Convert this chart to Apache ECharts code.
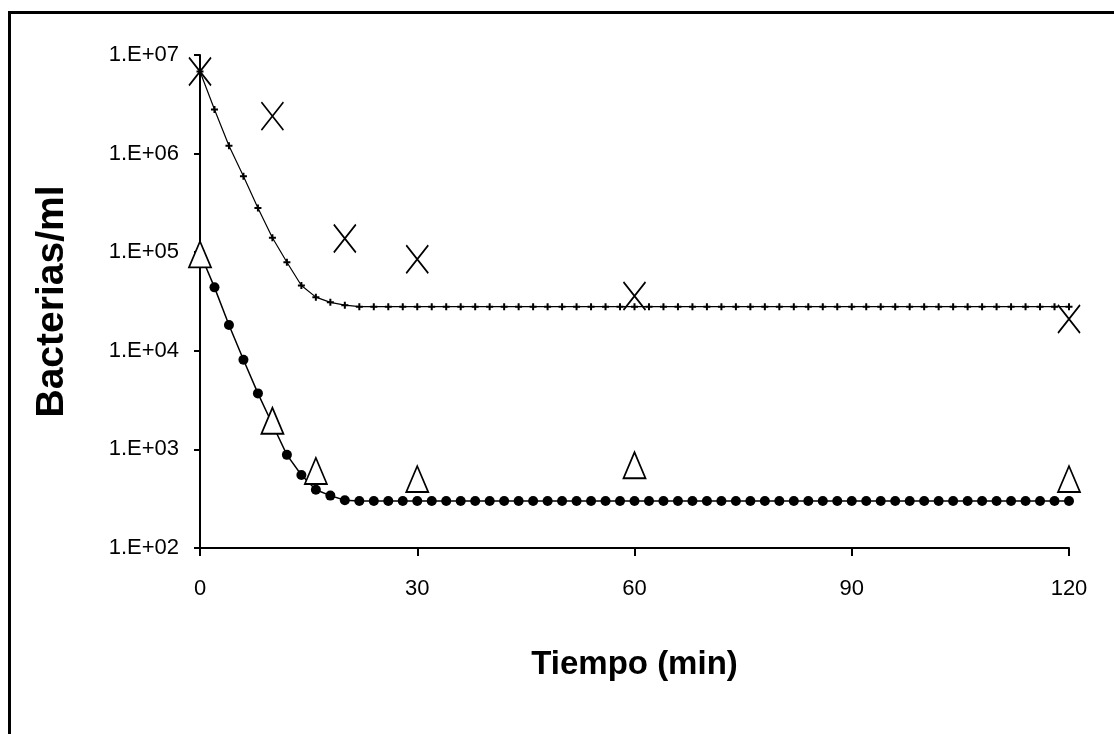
<!DOCTYPE html>
<html>
<head>
<meta charset="utf-8">
<script src="https://cdn.jsdelivr.net/npm/echarts@6/dist/echarts.min.js"></script>
<style>
html,body{margin:0;padding:0;background:#fff;}
#c{width:1114px;height:734px;}
</style>
</head>
<body>
<div id="c"></div>
<script>
// ---- data ----
var xTickLabels = ['0', '30', '60', '90', '120'];
var yTickLabels = ['1.E+02', '1.E+03', '1.E+04', '1.E+05', '1.E+06', '1.E+07'];

// experimental points
var expTimes = [0, 10, 20, 30, 60, 120];
var expX = [6.8e6, 2.4e6, 1.38e5, 8.5e4, 3.6e4, 2.1e4];          // "x" markers
var expTriTimes = [0, 10, 16, 30, 60, 120];
var expTri = [9.5e4, 1.95e3, 605, 500, 690, 500];                // open triangles

// model curves (every 2 min)
var modelTimes = [0, 2, 4, 6, 8, 10, 12, 14, 16, 18, 20, 22, 24, 26, 28, 30, 32, 34, 36, 38, 40,
  42, 44, 46, 48, 50, 52, 54, 56, 58, 60, 62, 64, 66, 68, 70, 72, 74, 76, 78, 80,
  82, 84, 86, 88, 90, 92, 94, 96, 98, 100, 102, 104, 106, 108, 110, 112, 114, 116, 118, 120];
var modelUpper = [6.8e6, 2.8e6, 1.2e6, 5.9e5, 2.8e5, 1.4e5, 7.9e4, 4.6e4, 3.5e4, 3.1e4, 2.9e4,
  2.8e4, 2.8e4, 2.8e4, 2.8e4, 2.8e4, 2.8e4, 2.8e4, 2.8e4, 2.8e4, 2.8e4,
  2.8e4, 2.8e4, 2.8e4, 2.8e4, 2.8e4, 2.8e4, 2.8e4, 2.8e4, 2.8e4, 2.8e4,
  2.8e4, 2.8e4, 2.8e4, 2.8e4, 2.8e4, 2.8e4, 2.8e4, 2.8e4, 2.8e4, 2.8e4,
  2.8e4, 2.8e4, 2.8e4, 2.8e4, 2.8e4, 2.8e4, 2.8e4, 2.8e4, 2.8e4, 2.8e4,
  2.8e4, 2.8e4, 2.8e4, 2.8e4, 2.8e4, 2.8e4, 2.8e4, 2.8e4, 2.8e4, 2.8e4];
var modelLower = [9.8e4, 4.4e4, 1.83e4, 8.1e3, 3.7e3, 1.8e3, 880, 550, 390, 340, 305,
  300, 300, 300, 300, 300, 300, 300, 300, 300, 300,
  300, 300, 300, 300, 300, 300, 300, 300, 300, 300,
  300, 300, 300, 300, 300, 300, 300, 300, 300, 300,
  300, 300, 300, 300, 300, 300, 300, 300, 300, 300,
  300, 300, 300, 300, 300, 300, 300, 300, 300, 300];

function pairs(xs, ys) { return xs.map(function (x, i) { return [x, ys[i]]; }); }

var font = "'Liberation Sans', Arial, sans-serif";

var chart = echarts.init(document.getElementById('c'), null, {renderer: 'canvas'});
chart.setOption({
  backgroundColor: '#ffffff',
  animation: false,
  graphic: [{
    type: 'rect',
    shape: {x: 9.5, y: 12.5, width: 1200, height: 900},
    style: {fill: 'none', stroke: '#000', lineWidth: 3},
    silent: true
  }],
  grid: {left: 200, right: 45, top: 55, bottom: 186, containLabel: false},
  xAxis: {
    type: 'value', min: 0, max: 120, interval: 30,
    name: 'Tiempo (min)', nameLocation: 'middle', nameGap: 100,
    nameTextStyle: {fontFamily: font, fontWeight: 'bold', fontSize: 33, color: '#000'},
    axisLine: {show: true, onZero: false, lineStyle: {color: '#000', width: 2}},
    axisTick: {show: true, inside: false, length: 8, lineStyle: {color: '#000', width: 2}},
    splitLine: {show: false},
    axisLabel: {
      margin: 30, fontFamily: font, fontSize: 22, color: '#000',
      formatter: function (v) { return xTickLabels[Math.round(v / 30)]; }
    }
  },
  yAxis: {
    type: 'log', logBase: 10, min: 100, max: 1e7,
    name: 'Bacterias/ml', nameLocation: 'middle', nameGap: 128, nameRotate: 90,
    nameTextStyle: {fontFamily: font, fontWeight: 'bold', fontSize: 39, color: '#000'},
    axisLine: {show: true, onZero: false, lineStyle: {color: '#000', width: 2}},
    axisTick: {show: true, inside: false, length: 6, lineStyle: {color: '#000', width: 2}},
    splitLine: {show: false},
    axisLabel: {
      margin: 21, fontFamily: font, fontSize: 22, color: '#000',
      formatter: function (v) { return yTickLabels[Math.round(Math.log10(v)) - 2]; }
    }
  },
  series: [
    {
      name: 'modelo superior', type: 'line', data: pairs(modelTimes, modelUpper),
      symbol: 'path://M0,5L10,5M5,0L5,10', symbolSize: 7, showAllSymbol: true,
      lineStyle: {color: '#000', width: 1.2},
      itemStyle: {color: 'none', borderColor: '#000', borderWidth: 2},
      z: 2
    },
    {
      name: 'modelo inferior', type: 'line', data: pairs(modelTimes, modelLower),
      symbol: 'circle', symbolSize: 10, showAllSymbol: true,
      lineStyle: {color: '#000', width: 1.5},
      itemStyle: {color: '#000'},
      z: 2
    },
    {
      name: 'x', type: 'scatter', data: pairs(expTimes, expX),
      symbol: 'path://M0,0L10,10M10,0L0,10', symbolSize: [22, 28],
      itemStyle: {color: 'none', borderColor: '#000', borderWidth: 1.8, opacity: 1},
      z: 3
    },
    {
      name: 'triangulo', type: 'scatter', data: pairs(expTriTimes, expTri),
      symbol: 'triangle', symbolSize: [22, 26],
      itemStyle: {color: '#fff', borderColor: '#000', borderWidth: 1.8, opacity: 1},
      z: 4
    }
  ]
});
</script>
</body>
</html>
